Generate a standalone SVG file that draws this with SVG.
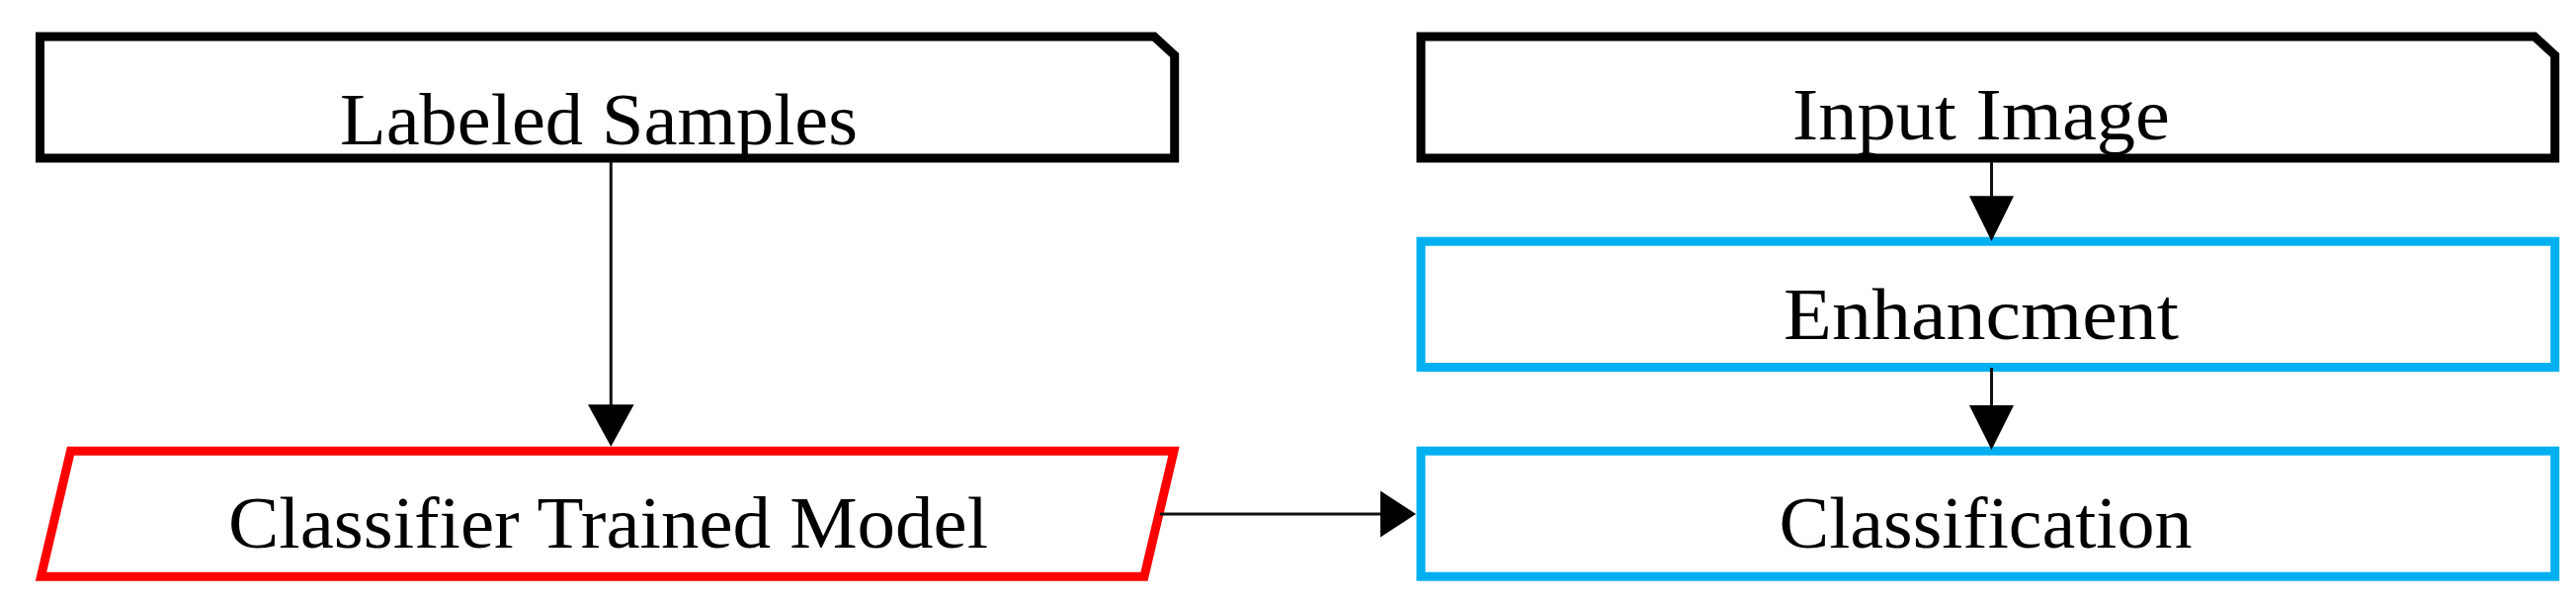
<svg xmlns="http://www.w3.org/2000/svg" width="2607" height="610" viewBox="0 0 2607 610">
<style>
  .box { fill: #ffffff; stroke-width: 9; stroke-linejoin: miter; }
  .black { stroke: #000000; }
  .blue { stroke: #00B0F0; }
  .red { stroke: #FF0000; }
  .lbl { font-family: "Liberation Serif", "Times New Roman", serif; font-size: 75px; fill: #000000; }
  .edge { stroke: #111111; stroke-width: 3; fill: none; }
  .head { fill: #000000; stroke: none; }
</style>
<rect x="0" y="0" width="2607" height="610" fill="#ffffff"/>

<g id="node-labeled-samples">
  <path class="box black" d="M40.5,37 H1168 L1188.7,56 V160 H40.5 Z"/>
  <text class="lbl" x="344" y="146" textLength="524" lengthAdjust="spacingAndGlyphs">Labeled Samples</text>
</g>

<g id="node-classifier-trained-model">
  <path class="box red" d="M71.5,456.2 H1188 L1158,583.2 H41.5 Z"/>
  <text class="lbl" x="231" y="553.5" textLength="769" lengthAdjust="spacingAndGlyphs">Classifier Trained Model</text>
</g>

<g id="node-input-image">
  <path class="box black" d="M1438,37 H2565 L2585.7,56 V160 H1438 Z"/>
  <text class="lbl" x="1814" y="140.5" textLength="382" lengthAdjust="spacingAndGlyphs">Input Image</text>
</g>

<g id="node-enhancment">
  <rect class="box blue" x="1438" y="244.2" width="1147.7" height="127.3"/>
  <text class="lbl" x="1805" y="342.5" textLength="400" lengthAdjust="spacingAndGlyphs">Enhancment</text>
</g>

<g id="node-classification">
  <rect class="box blue" x="1438" y="456.2" width="1147.7" height="127"/>
  <text class="lbl" x="1800.5" y="554" textLength="418" lengthAdjust="spacingAndGlyphs">Classification</text>
</g>

<g id="connectors">
  <line class="edge" x1="618.3" y1="164" x2="618.3" y2="412"/>
  <polygon class="head" points="595,409.3 641.6,409.3 618.3,451.7"/>

  <line class="edge" x1="2015.5" y1="164" x2="2015.5" y2="201"/>
  <polygon class="head" points="1993,198.3 2038,198.3 2015.5,244"/>

  <line class="edge" x1="2015.5" y1="372" x2="2015.5" y2="413"/>
  <polygon class="head" points="1993,410 2038,410 2015.5,455"/>

  <line class="edge" x1="1174" y1="520" x2="1400" y2="520"/>
  <polygon class="head" points="1397,496.5 1397,543.5 1433,520"/>
</g>
</svg>
